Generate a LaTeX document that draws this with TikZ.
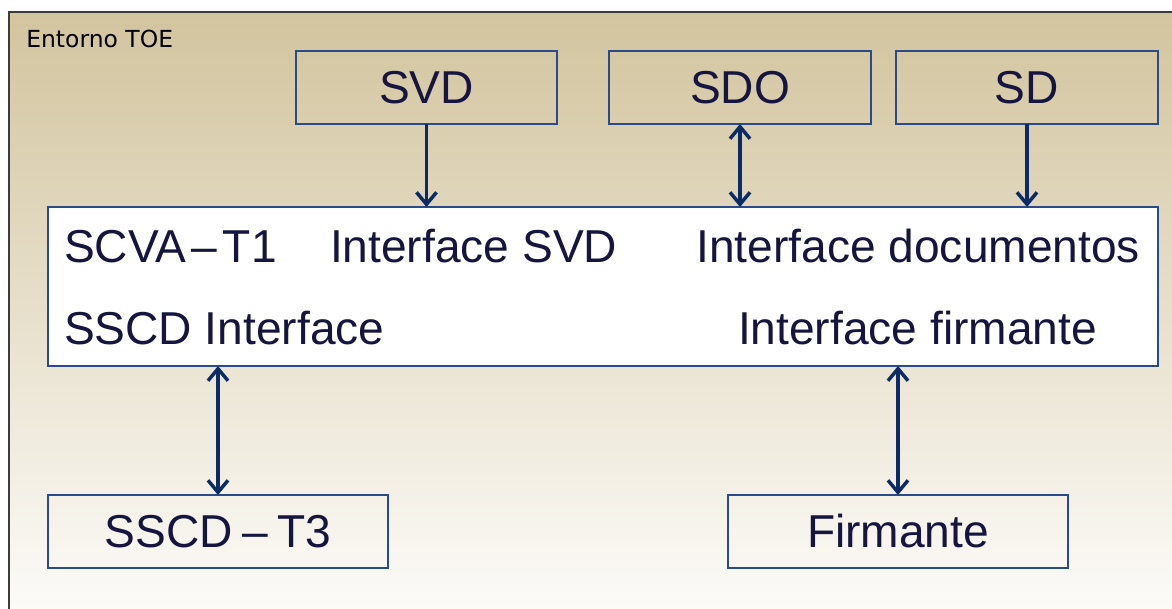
\documentclass[tikz,border=0pt]{standalone}
\usepackage{fontspec}
\setmainfont{Liberation Sans}
\newfontfamily\labelfont{DejaVu Sans}
\usetikzlibrary{arrows.meta}
\definecolor{tanTop}{HTML}{D2C49E}
\definecolor{tanMid}{HTML}{EEE7D4}
\definecolor{tanBot}{HTML}{FDFCFA}
\definecolor{frameGray}{HTML}{3C3C3C}
\definecolor{boxBlue}{HTML}{2A4A88}
\definecolor{arrBlue}{HTML}{0C2A66}
\definecolor{txtNavy}{HTML}{15153F}
\tikzset{
  box/.style={draw=boxBlue, line width=1.2pt, inner sep=0pt, outer sep=0pt,
    minimum height=54.75pt, text=txtNavy, font=\fontsize{34.6}{40}\selectfont},
  inbox/.style={inner sep=0pt, outer sep=0pt, text=txtNavy, font=\fontsize{34.6}{40}\selectfont},
  arr/.style={draw=arrBlue, line width=2.6pt, -{Straight Barb[length=9pt,width=15pt]}},
  darr/.style={draw=arrBlue, line width=2.6pt, {Straight Barb[length=9pt,width=15pt]}-{Straight Barb[length=9pt,width=15pt]}}
}
\begin{document}
\begin{tikzpicture}[x=0.75pt,y=-0.75pt]
\useasboundingbox (0,0) rectangle (1172,608);
\begin{scope}
\clip (0,0) rectangle (1172,608);
\shade[top color=tanTop, middle color=tanMid, bottom color=tanBot] (9,12) rectangle (1190,620);
\draw[frameGray, line width=1.5pt] (9,12) rectangle (1190,620);
\end{scope}
\node[anchor=base west, inner sep=0pt, text=black, font=\labelfont\fontsize{17.6}{20}\selectfont] (toe) at (26,47) {Entorno TOE};

\node[box, minimum width=195.75pt] (svd) at (426.5,87.5) {SVD};
\node[box, minimum width=196.5pt] (sdo) at (740,87.5) {SDO};
\node[box, minimum width=196.5pt] (sd) at (1027,87.5) {SD};
\node[box, fill=white, minimum width=832.5pt, minimum height=119.25pt] (main) at (603,286.5) {};
\node[box, minimum width=255pt] (sscd) at (218,531.5) {SSCD\hspace{0.2em}--\hspace{0.2em}T3};
\node[box, minimum width=255pt] (firm) at (898,531.5) {Firmante};

\node[inbox, anchor=base west] (scva) at (64,262) {SCVA\hspace{0.12em}--\hspace{0.12em}T1};
\node[inbox, anchor=base west] (isvd) at (330,262) {Interface SVD};
\node[inbox, anchor=base east] (idoc) at (1140,262) {Interface documentos};
\node[inbox, anchor=base west] (isscd) at (64,344) {SSCD Interface};
\node[inbox, anchor=base east] (ifirm) at (1097,344) {Interface firmante};

\draw[arr] (svd.south) -- (svd.south |- main.north);
\draw[darr] (sdo.south) -- (sdo.south |- main.north);
\draw[arr] (sd.south) -- (sd.south |- main.north);
\draw[darr] (sscd.north |- main.south) -- (sscd.north);
\draw[darr] (firm.north |- main.south) -- (firm.north);
\end{tikzpicture}
\end{document}
